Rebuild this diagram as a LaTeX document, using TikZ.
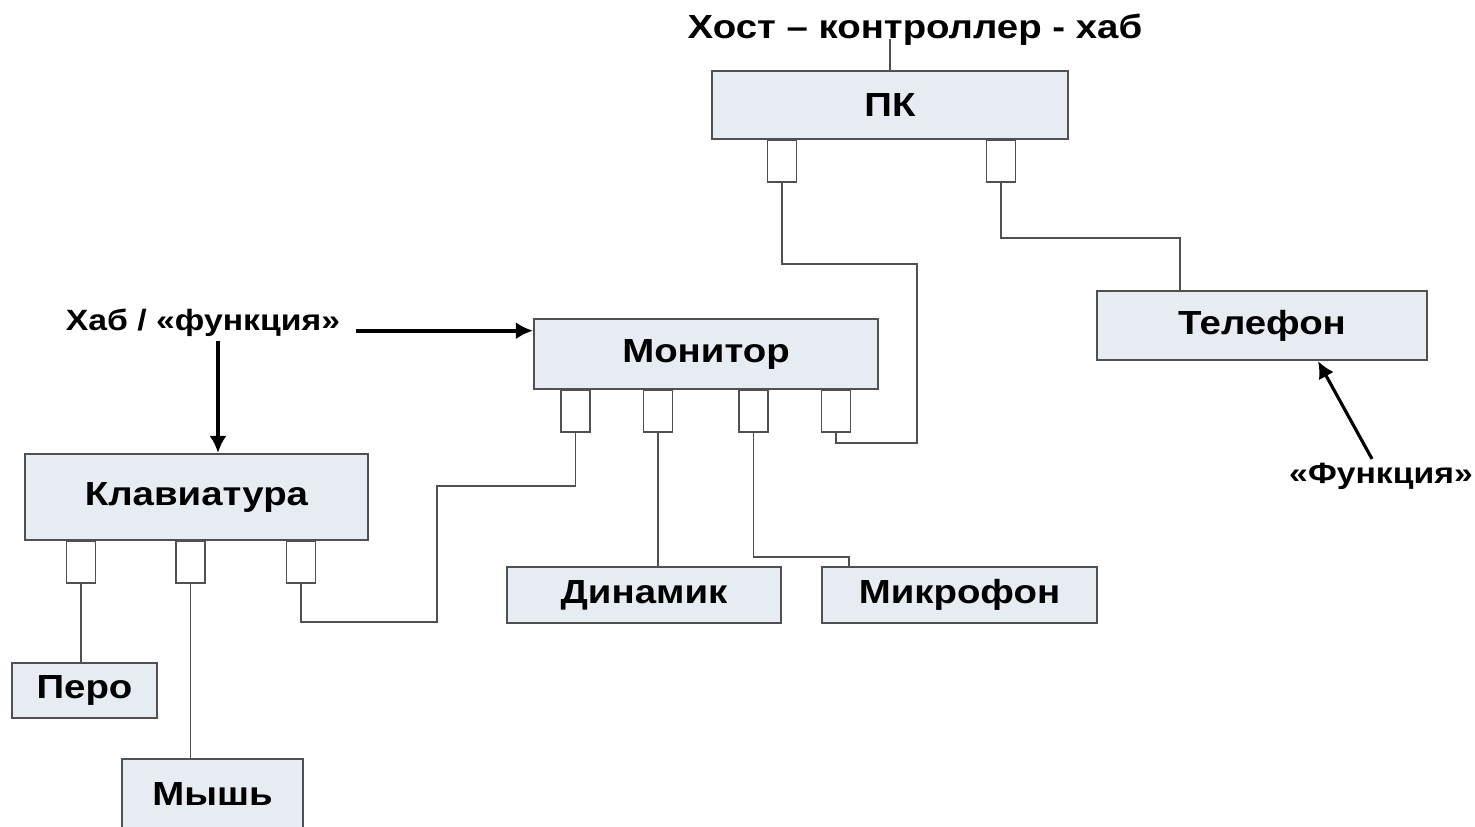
\documentclass[tikz,border=0pt]{standalone}
\usepackage{fontspec}
\setmainfont{Liberation Sans}[FakeStretch=1.15]
\usetikzlibrary{positioning, calc, arrows.meta}
\definecolor{boxfill}{RGB}{230,236,242}
\definecolor{boxline}{RGB}{80,80,80}
\tikzset{block/.style = {draw=boxline, fill=boxfill, line width=1.2pt, inner sep=0pt, font=\fontsize{19}{22}\selectfont\bfseries}}
\tikzset{port/.style = {draw=boxline, fill=white, line width=1pt, minimum width=0.58cm, minimum height=0.84cm, inner sep=0pt, anchor=north}}
\tikzset{wire/.style = {draw=boxline, line width=1pt}}
\tikzset{note/.style = {inner sep=2pt, font=\fontsize{16.7}{19}\selectfont\bfseries}}
\tikzset{link/.style = {-{Latex[length=0.34cm, width=0.34cm]}, line width=2.3pt}}

\begin{document}
\begin{tikzpicture}[x=0.02cm, y=-0.02cm]
			\useasboundingbox (0,0) rectangle (1475,827);
			% PC
			\node [block, minimum width=7.12cm, minimum height=1.36cm] (pc) at (890,105) {ПК};
			\node [note, font=\fontsize{19}{22}\selectfont\bfseries] (host) at (915,30) {Хост – контроллер - хаб};
			\draw[wire] (pc.north) -- (pc.north |- host.base);
			\node [port] (pc-p1) at (782,139) {};
			\node [port] (pc-p2) at (1001,139) {};
			% Phone
			\node [block, minimum width=6.6cm, minimum height=1.38cm] (phone) at (1262,325.5) {Телефон};
			\draw[wire] (pc-p2.south) -- ++(0,55) -| ($(phone.north west)+(84,0)$);
			\node [note] (func) at (1381,476) {«Функция»};
			\draw[link, line width=1.8pt] ($(func.north)+(-9,0)$) -- ($(phone.south)+(56,0)$);
			% Monitor
			\node [block, minimum width=6.88cm, minimum height=1.4cm] (monitor) at (706,354) {Монитор};
			\node [port] (mon-p1) at (575.5,389) {};
			\node [port] (mon-p2) at (658,389) {};
			\node [port] (mon-p3) at (753.5,389) {};
			\node [port] (mon-p4) at (836,389) {};
			\draw[wire] (pc-p1.south) -- ++(0,81) -| (917,443) -| (mon-p4.south);
			% Speaker and microphone
			\node [block, minimum width=5.48cm, minimum height=1.12cm] (speaker) at (644,595) {Динамик};
			\draw[wire] (mon-p2.south) -- (mon-p2.south |- speaker.north);
			\node [block, minimum width=5.5cm, minimum height=1.12cm] (mic) at (959.5,595) {Микрофон};
			\draw[wire] (mon-p3.south) -- ++(0,124) -| ($(mic.north west)+(28,0)$);
			% Keyboard
			\node [note] (hub) at (203,323) {Хаб / «функция»};
			\node [block, minimum width=6.86cm, minimum height=1.72cm] (kbd) at (196.5,497) {Клавиатура};
			\draw[link] ([xshift=0.25cm]hub.base east) -- (hub.base east -| monitor.west);
			\draw[link] ([xshift=0.3cm]hub.south) -- ([xshift=0.3cm]hub.south |- kbd.north);
			\node [port] (kbd-p1) at (81,540) {};
			\node [port] (kbd-p2) at (190.5,540) {};
			\node [port] (kbd-p3) at (301,540) {};
			\draw[wire] (mon-p1.south) -- ++(0,53) -| (437,622) -| (kbd-p3.south);
			% Pen and mouse
			\node [block, minimum width=2.9cm, minimum height=1.1cm] (pen) at (84.5,690.5) {Перо};
			\draw[wire] (kbd-p1.south) -- (kbd-p1.south |- pen.north);
			\node [block, minimum width=3.62cm, minimum height=1.4cm] (mouse) at (212.5,794) {Мышь};
			\draw[wire] (kbd-p2.south) -- (kbd-p2.south |- mouse.north);
		\end{tikzpicture}
\end{document}
